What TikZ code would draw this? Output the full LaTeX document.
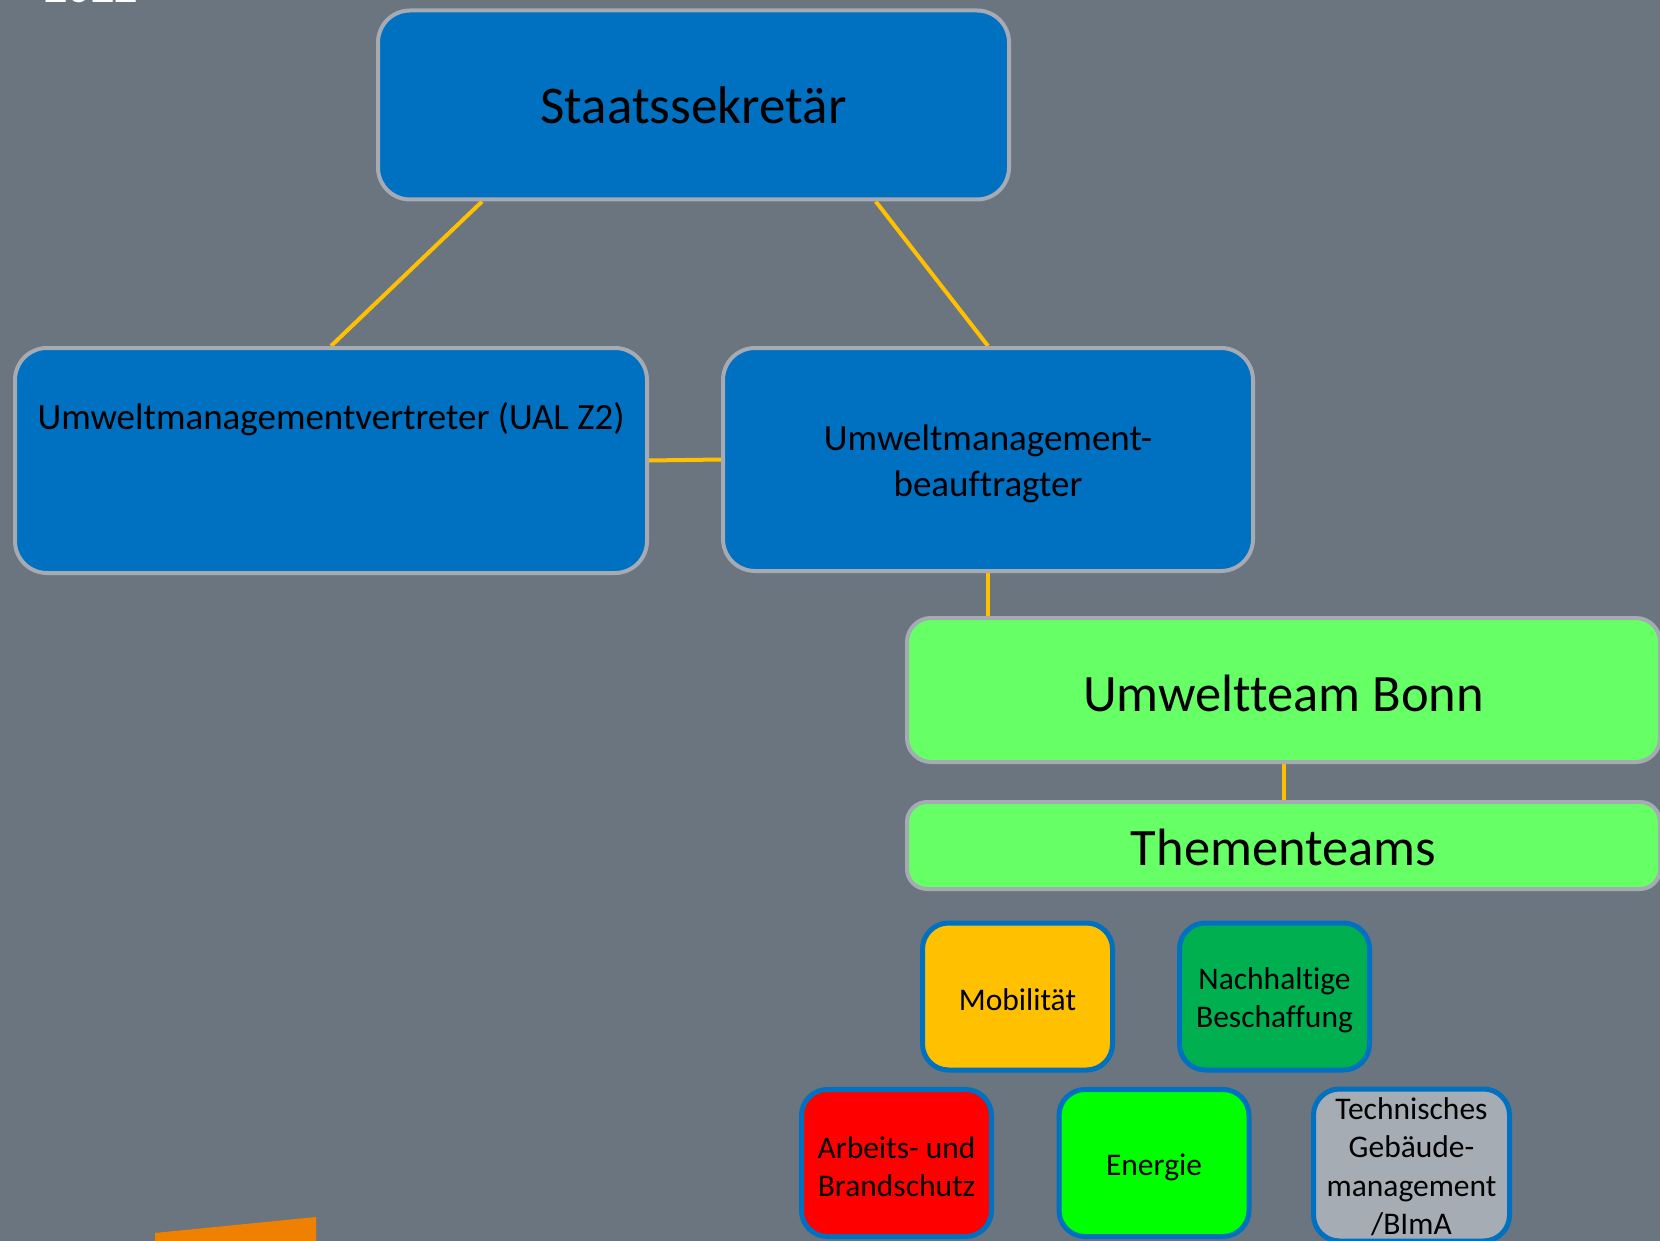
\documentclass[tikz,border=0pt]{standalone}
\usepackage{fontspec}
\setmainfont{Carlito}[Ligatures=NoCommon]
\usetikzlibrary{calc,backgrounds}

\definecolor{slate}{RGB}{107,117,128}
\definecolor{boxblue}{RGB}{0,112,192}
\definecolor{rim}{RGB}{166,170,178}
\definecolor{linkgold}{RGB}{255,192,0}
\definecolor{teamgreen}{RGB}{102,255,102}
\definecolor{mobgold}{RGB}{255,192,0}
\definecolor{buygreen}{RGB}{0,176,80}
\definecolor{firered}{RGB}{255,0,0}
\definecolor{energygreen}{RGB}{0,255,0}
\definecolor{techgray}{RGB}{166,172,180}
\definecolor{accentorange}{RGB}{240,128,0}

\tikzset{
  bigbox/.style={draw=rim, line width=4pt, fill=boxblue, rounded corners=32pt,
    text=black, align=center, inner sep=0pt},
  greenbar/.style={draw=rim, line width=4pt, fill=teamgreen, rounded corners=24pt,
    text=black, align=center, inner sep=0pt,
    font=\fontsize{52.5}{63}\selectfont},
  topiccard/.style={draw=boxblue, line width=5pt, rounded corners=26pt,
    minimum width=190pt, minimum height=147pt, text=black, align=center,
    inner sep=0pt, font=\fontsize{31.5}{38.5}\selectfont},
  linkline/.style={draw=linkgold, line width=4pt},
  midfont/.style={font=\fontsize{37}{45.5}\selectfont},
}

\begin{document}
\begin{tikzpicture}[x=1pt,y=-1pt]
\useasboundingbox (0,0) rectangle (1660,1241);
\clip (0,0) rectangle (1660,1241);

% page background
\begin{scope}[on background layer]
  \fill[slate] (0,0) rectangle (1660,1241);
\end{scope}

% year stamp at the top edge and orange accent at the bottom edge
\node[anchor=base, text=white, font=\fontsize{46}{55}\selectfont\bfseries]
  (year) at (91,3) {2022};
\fill[accentorange] (155,1233) -- (316,1217) -- (316,1250) -- (155,1250) -- cycle;

% management hierarchy
\node[bigbox, minimum width=631pt, minimum height=189pt,
  font=\fontsize{53}{64}\selectfont] (staats) at (693.5,105) {Staatssekretär};

\node[bigbox, minimum width=632pt, minimum height=225pt] (umv) at (331,460.5) {};
\node[midfont, text=black] (umvtext) at (331,419) {Umweltmanagementvertreter (UAL Z2)};

\node[bigbox, minimum width=530pt, minimum height=223pt, midfont, text height=80pt]
  (umb) at (988,459.5) {Umweltmanagement-\\beauftragter};

\node[greenbar, minimum width=753pt, minimum height=144pt, text height=43pt]
  (team) at (1283.5,690) {Umweltteam Bonn};
\node[greenbar, minimum width=753pt, minimum height=87pt, rounded corners=20pt,
  text height=41pt] (themen) at (1283.5,845.5) {Thementeams};

% topic teams
\node[topiccard, fill=mobgold, text height=28pt]     (mob)  at (1017.5,996.5) {Mobilität};
\node[topiccard, fill=buygreen, text height=68pt]    (nach) at (1274.5,996.5) {Nachhaltige\\Beschaffung};
\node[topiccard, fill=firered, text height=68pt]     (arb)  at (896.5,1163)   {Arbeits- und\\Brandschutz};
\node[topiccard, fill=energygreen, text height=30pt] (ene)  at (1154,1163)    {Energie};
\node[topiccard, fill=techgray, minimum width=196pt, minimum height=152pt,
  text height=141pt] (tech) at (1411.5,1165) {Technisches\\Gebäude-\\management\\/BImA};

% connectors, kept behind the boxes
\begin{scope}[on background layer]
  \draw[linkline] ($(staats.south west)!0.167!(staats.south east)$) -- (umv.north);
  \draw[linkline] ($(staats.south west)!0.787!(staats.south east)$) -- (umb.north);
  \draw[linkline] (umv.east) -- (umb.west);
  \draw[linkline] (umb.south) -- (umb.south |- team.north);
  \draw[linkline] (team.south) -- (themen.north);
\end{scope}
\end{tikzpicture}
\end{document}
